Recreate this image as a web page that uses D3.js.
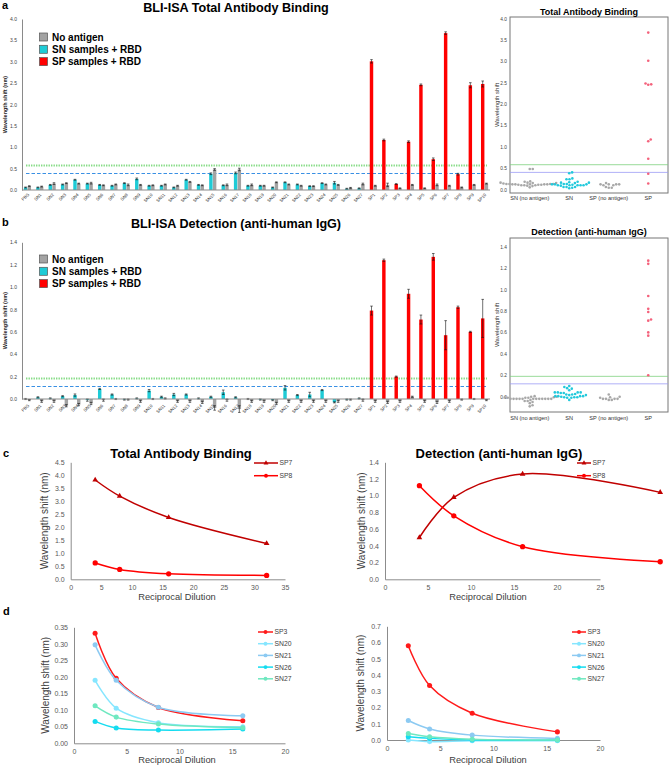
<!DOCTYPE html>
<html><head><meta charset="utf-8">
<script src="https://cdn.jsdelivr.net/npm/d3@7"></script>
<style>
body{margin:0;background:#fff}
svg{display:block}
text{font-family:"Liberation Sans",Arial,sans-serif}
</style>
</head><body>
<svg id="fig" width="669" height="767"></svg>
<script>
// ---------------- DATA ----------------
const categories = ["PBS","SN1","SN2","SN3","SN4","SN5","SN6","SN7","SN8","SN9","SN10","SN11","SN12","SN13","SN14","SN15","SN16","SN17","SN18","SN19","SN20","SN21","SN22","SN23","SN24","SN25","SN26","SN27","SP1","SP2","SP3","SP4","SP5","SP6","SP7","SP8","SP9","SP10"];

// Panel a: total antibody binding (nm)
const totalRBD = [0.06,0.06,0.12,0.13,0.24,0.15,0.12,0.10,0.16,0.26,0.10,0.10,0.06,0.24,0.12,0.38,0.11,0.40,0.10,0.10,0.06,0.18,0.13,0.09,0.16,0.17,0.03,0.04,3.01,1.17,0.14,1.13,2.46,0.72,3.67,0.37,2.45,2.48];
const totalRBDErr = [0.01,0.01,0.01,0.01,0.01,0.01,0.01,0.01,0.01,0.02,0.01,0.01,0.01,0.01,0.01,0.02,0.01,0.02,0.01,0.01,0.01,0.01,0.01,0.01,0.01,0.03,0.01,0.01,0.04,0.02,0.01,0.02,0.02,0.03,0.03,0.02,0.06,0.07];
const totalNoAg = [0.09,0.08,0.15,0.16,0.15,0.16,0.11,0.13,0.12,0.12,0.11,0.13,0.10,0.19,0.11,0.48,0.12,0.48,0.12,0.10,0.18,0.13,0.10,0.09,0.13,0.12,0.05,0.14,0.10,0.12,0.04,0.12,0.04,0.12,0.10,0.06,0.12,0.15];
const totalNoAgErr = [0.01,0.01,0.02,0.01,0.01,0.02,0.01,0.01,0.02,0.01,0.01,0.01,0.01,0.01,0.01,0.02,0.02,0.03,0.02,0.01,0.01,0.01,0.01,0.01,0.01,0.01,0.01,0.02,0.01,0.04,0.01,0.01,0.01,0.02,0.01,0.01,0.01,0.01];
const totalThresholds = [0.58, 0.40];

// Panel b: detection (anti-human IgG) (nm)
const detRBD = [0.00,0.015,0.005,0.025,0.035,-0.01,0.09,0.04,-0.005,0.005,0.075,0.02,0.04,0.04,0.005,0.02,0.06,0.015,0.00,-0.005,-0.01,0.10,0.035,0.04,0.08,-0.03,-0.005,0.005,0.79,1.24,0.20,0.94,0.71,1.27,0.57,0.82,0.60,0.72];
const detRBDErr = [0.005,0.005,0.005,0.005,0.01,0.01,0.005,0.005,0.005,0.005,0.01,0.005,0.01,0.005,0.005,0.005,0.02,0.005,0.005,0.005,0.005,0.02,0.005,0.02,0.005,0.005,0.005,0.005,0.04,0.01,0.005,0.04,0.04,0.03,0.13,0.01,0.005,0.17];
const detNoAg = [-0.01,-0.02,-0.02,-0.06,-0.05,-0.04,-0.01,0.00,-0.005,-0.02,0.00,0.005,-0.02,-0.02,-0.03,-0.08,-0.01,-0.09,-0.02,-0.02,-0.04,-0.02,-0.02,-0.02,-0.02,-0.02,-0.005,-0.01,-0.02,-0.03,-0.02,0.02,-0.02,-0.03,-0.02,-0.005,0.00,-0.01];
const detNoAgErr = [0.005,0.01,0.01,0.01,0.01,0.01,0.01,0.005,0.005,0.01,0.005,0.005,0.01,0.01,0.01,0.02,0.01,0.03,0.01,0.01,0.01,0.01,0.01,0.01,0.01,0.01,0.005,0.01,0.01,0.01,0.01,0.005,0.01,0.01,0.01,0.005,0.005,0.005];
const detThresholds = [0.19, 0.12];

const legendLabels = ["No antigen","SN samples + RBD","SP samples + RBD"];
const scatterGroups = ["SN (no antigen)","SN","SP (no antigen)","SP"];

const totalBarTicks = [0,0.5,1,1.5,2,2.5,3,3.5,4];
const detBarTicks = [0,0.2,0.4,0.6,0.8,1,1.2,1.4];

// Panel c: dilution series
const dilutionC = [4, 8, 16, 32];
const cTotalSP7 = [3.82, 3.20, 2.38, 1.38];
const cTotalSP8 = [0.63, 0.38, 0.21, 0.15];
const cDetSP7 = [0.50, 0.98, 1.26, 1.04];
const cDetSP8 = [1.12, 0.76, 0.39, 0.21];
const cTotalYTicks = [0,0.5,1,1.5,2,2.5,3,3.5,4,4.5];
const cTotalXTicks = [0,5,10,15,20,25,30,35];
const cDetYTicks = [0,0.2,0.4,0.6,0.8,1,1.2,1.4];
const cDetXTicks = [0,5,10,15,20,25];

// Panel d: dilution series
const dilutionD = [2, 4, 8, 16];
const dNames = ["SP3","SN20","SN21","SN26","SN27"];
const dTotalSP3  = [0.332, 0.196, 0.108, 0.068];
const dTotalSN20 = [0.190, 0.106, 0.062, 0.050];
const dTotalSN21 = [0.297, 0.190, 0.109, 0.083];
const dTotalSN26 = [0.066, 0.046, 0.040, 0.043];
const dTotalSN27 = [0.113, 0.079, 0.058, 0.047];
const dDetSP3  = [0.58, 0.335, 0.165, 0.050];
const dDetSN20 = [0.000, -0.010, -0.005, -0.005];
const dDetSN21 = [0.120, 0.068, 0.030, 0.010];
const dDetSN26 = [0.020, 0.010, 0.000, 0.000];
const dDetSN27 = [0.040, 0.020, 0.005, 0.000];
const dTotalYTicks = [0,0.05,0.1,0.15,0.2,0.25,0.3,0.35];
const dDetYTicks = [0,0.1,0.2,0.3,0.4,0.5,0.6,0.7];
const dXTicks = [0,5,10,15,20];

// ---------------- STYLE ----------------
const C_CYAN = "#1ecbd6", C_GRAY = "#a3a3a3", C_RED = "#ff0000", C_DARKRED = "#c00000";
const dColors = {SP3:"#ff1a1a", SN20:"#86e6ff", SN21:"#8ccaf2", SN26:"#14dcf0", SN27:"#6fe8c0"};
const svg = d3.select("#fig");

function letter(t, x, y) {
  svg.append("text").attr("x", x).attr("y", y).attr("font-size", 11).attr("font-weight", "bold").text(t);
}

// ---------------- BAR PANELS ----------------
function barPanel(o) {
  const g = svg.append("g");
  const x0 = d3.scaleBand().domain(categories).range([22, 490]).paddingInner(0.42).paddingOuter(0.15);
  const x1 = d3.scaleBand().domain(["rbd","no"]).range([0, x0.bandwidth()]).paddingInner(0.08);
  const y = d3.scaleLinear().domain([0, o.yMax]).range([o.base, o.top]);

  // y axis
  const ya = d3.axisLeft(y).tickValues(o.ticks).tickFormat(d3.format(".1f")).tickSize(0).tickSizeOuter(0).tickPadding(5);
  const yg = g.append("g").attr("transform", "translate(22,0)").call(ya);
  yg.select(".domain").attr("stroke", "#8a8a8a").attr("stroke-width", 1);
  yg.selectAll("text").attr("font-size", 5).attr("fill", "#444");
  g.append("text").attr("transform", `translate(7,${(o.base + o.top) / 2}) rotate(-90)`)
    .attr("text-anchor", "middle").attr("font-size", 5.5).attr("font-weight", "bold").attr("fill", "#222")
    .text("Wavelength shift (nm)");

  // thresholds
  const ty0 = Math.round(y(o.thr[0])) + 0.5, ty1 = Math.round(y(o.thr[1])) + 0.5;
  g.append("line").attr("x1", 26).attr("x2", 487).attr("y1", ty0).attr("y2", ty0)
    .attr("stroke", "#86dc86").attr("stroke-width", 2).attr("stroke-dasharray", "1.4 1.1");
  g.append("line").attr("x1", 26).attr("x2", 487).attr("y1", ty1).attr("y2", ty1)
    .attr("stroke", "#3a90e4").attr("stroke-width", 1).attr("stroke-dasharray", "3.5 2");

  const rows = categories.map((c, i) => ({c, i, sp: c.startsWith("SP")}));
  function bars(vals, errs, key, colorFn) {
    const gg = g.append("g");
    gg.selectAll("rect").data(rows).join("rect")
      .attr("x", d => x0(d.c) + x1(key))
      .attr("width", x1.bandwidth())
      .attr("y", d => y(Math.max(0, vals[d.i])))
      .attr("height", d => Math.abs(y(vals[d.i]) - y(0)))
      .attr("fill", colorFn);
    const eg = gg.append("g").attr("stroke", "#111").attr("stroke-width", 0.6);
    rows.forEach(d => {
      const cx = x0(d.c) + x1(key) + x1.bandwidth() / 2;
      const v = vals[d.i], e = errs[d.i];
      eg.append("line").attr("x1", cx).attr("x2", cx).attr("y1", y(v - e)).attr("y2", y(v + e));
      [v - e, v + e].forEach(t => eg.append("line").attr("x1", cx - 1.3).attr("x2", cx + 1.3).attr("y1", y(t)).attr("y2", y(t)));
    });
  }
  bars(o.rbd, o.rbdErr, "rbd", d => d.sp ? C_RED : C_CYAN);
  bars(o.no, o.noErr, "no", () => C_GRAY);

  // x axis
  g.append("line").attr("x1", 22).attr("x2", 490).attr("y1", y(0)).attr("y2", y(0)).attr("stroke", "#8a8a8a");
  g.append("g").selectAll("text").data(rows).join("text")
    .attr("transform", d => `translate(${x0(d.c) + x0.bandwidth() / 2 + 2},${o.labelY}) rotate(-45)`)
    .attr("text-anchor", "end").attr("font-size", 4.3).attr("fill", "#333").text(d => d.c);

  // title
  g.append("text").attr("x", 236).attr("y", o.titleY).attr("text-anchor", "middle")
    .attr("font-size", 12.6).attr("font-weight", "bold").text(o.title);

  // legend
  const lc = [C_GRAY, C_CYAN, C_RED];
  legendLabels.forEach((t, i) => {
    const yy = o.legY + i * 12.3;
    g.append("rect").attr("x", 39.5).attr("y", yy - 4).attr("width", 8).attr("height", 8)
      .attr("fill", lc[i]).attr("stroke", "#555").attr("stroke-width", 0.7);
    g.append("text").attr("x", 52).attr("y", yy + 3.6).attr("font-size", 10).attr("font-weight", "bold").text(t);
  });
}

barPanel({yMax: 4, top: 19, base: 190, ticks: totalBarTicks, thr: totalThresholds,
  rbd: totalRBD, rbdErr: totalRBDErr, no: totalNoAg, noErr: totalNoAgErr,
  labelY: 195, title: "BLI-ISA Total Antibody Binding", titleY: 12, legY: 37});
barPanel({yMax: 1.4, top: 242.3, base: 399, ticks: detBarTicks, thr: detThresholds,
  rbd: detRBD, rbdErr: detRBDErr, no: detNoAg, noErr: detNoAgErr,
  labelY: 406, title: "BLI-ISA Detection (anti-human IgG)", titleY: 227.5, legY: 259});

// ---------------- SCATTER (swarm) PANELS ----------------
function swarm(vals, y, r) {
  const pts = vals.map(v => ({v, y: y(v)})).sort((a, b) => b.y - a.y);
  const placed = [];
  pts.forEach(p => {
    const cands = [0];
    placed.forEach(q => {
      const dy = p.y - q.y;
      if (Math.abs(dy) < 2 * r) {
        const dx = Math.sqrt(4 * r * r - dy * dy);
        cands.push(q.x + dx, q.x - dx);
      }
    });
    cands.sort((a, b) => Math.abs(a) - Math.abs(b));
    for (const c of cands) {
      if (placed.every(q => (q.x - c) ** 2 + (q.y - p.y) ** 2 >= 4 * r * r - 1e-6)) { p.x = c; break; }
    }
    placed.push(p);
  });
  return placed;
}

function scatterPanel(o) {
  const g = svg.append("g");
  const x = d3.scaleBand().domain(scatterGroups).range([510, 668]);
  const y = d3.scaleLinear().domain(o.yDomain).range(o.yRange);
  g.append("rect").attr("x", 510).attr("y", o.frameTop).attr("width", 158).attr("height", o.frameBot - o.frameTop)
    .attr("fill", "none").attr("stroke", "#777").attr("stroke-width", 1);
  const ya = d3.axisLeft(y).tickValues(o.ticks).tickFormat(d3.format(".1f")).tickSize(0).tickPadding(3);
  const yg = g.append("g").attr("transform", "translate(510,0)").call(ya);
  yg.select(".domain").remove();
  yg.selectAll("text").attr("font-size", 4.8).attr("fill", "#444");
  g.append("text").attr("transform", `translate(499,${(o.frameTop + o.frameBot) / 2}) rotate(-90)`)
    .attr("text-anchor", "middle").attr("font-size", 6).attr("fill", "#333").text("Wavelength shift");
  g.append("text").attr("x", 589).attr("y", o.titleY).attr("text-anchor", "middle")
    .attr("font-size", 9).attr("font-weight", "bold").text(o.title);
  // thresholds
  g.append("line").attr("x1", 510).attr("x2", 668).attr("y1", y(o.thr[0])).attr("y2", y(o.thr[0]))
    .attr("stroke", "#7fd17f").attr("stroke-width", 0.8);
  g.append("line").attr("x1", 510).attr("x2", 668).attr("y1", y(o.thr[1])).attr("y2", y(o.thr[1]))
    .attr("stroke", "#9d9df5").attr("stroke-width", 0.8);
  // category labels
  scatterGroups.forEach(c => g.append("text").attr("x", x(c) + x.bandwidth() / 2).attr("y", o.catY)
    .attr("text-anchor", "middle").attr("font-size", 5.6).attr("fill", "#333").text(c));
  // points
  const groups = [
    {c: scatterGroups[0], vals: o.no.slice(1, 28), col: "#a8a8a8"},
    {c: scatterGroups[1], vals: o.rbd.slice(1, 28), col: "#22c9dc"},
    {c: scatterGroups[2], vals: o.no.slice(28), col: "#a8a8a8"},
    {c: scatterGroups[3], vals: o.rbd.slice(28), col: "#f4627c"}
  ];
  groups.forEach(gr => {
    const cx = x(gr.c) + x.bandwidth() / 2;
    const pts = swarm(gr.vals, y, 1.5);
    g.append("g").selectAll("circle").data(pts).join("circle")
      .attr("cx", d => cx + d.x).attr("cy", d => d.y).attr("r", 1.3).attr("fill", gr.col);
  });
}

scatterPanel({yDomain: [0, 4], yRange: [189.5, 18.5], frameTop: 17, frameBot: 193, ticks: totalBarTicks,
  thr: totalThresholds, rbd: totalRBD, no: totalNoAg, title: "Total Antibody Binding", titleY: 15, catY: 200});
scatterPanel({yDomain: [0, 1.4], yRange: [396.7, 246.7], frameTop: 238, frameBot: 412, ticks: detBarTicks,
  thr: detThresholds, rbd: detRBD, no: detNoAg, title: "Detection (anti-human IgG)", titleY: 235, catY: 419.5});

// ---------------- LINE PANELS ----------------
function lineChart(o) {
  const g = svg.append("g");
  const x = d3.scaleLinear().domain(o.xDomain).range(o.xRange);
  const y = d3.scaleLinear().domain(o.yDomain).range(o.yRange);
  const ya = d3.axisLeft(y).tickValues(o.yTicks).tickFormat(d3.format(o.yFmt)).tickSize(0).tickSizeOuter(0).tickPadding(6);
  const yg = g.append("g").attr("transform", `translate(${o.xRange[0]},0)`).call(ya);
  const xa = d3.axisBottom(x).tickValues(o.xTicks).tickSize(0).tickSizeOuter(0).tickPadding(6);
  const xg = g.append("g").attr("transform", `translate(0,${o.yRange[0]})`).call(xa);
  [yg, xg].forEach(a => {
    a.select(".domain").attr("stroke", "#8c8c8c").attr("stroke-width", 1);
    a.selectAll("text").attr("font-size", 7).attr("fill", "#595959");
  });
  g.append("text").attr("transform", `translate(${o.yLabX},${(o.yRange[0] + o.yRange[1]) / 2}) rotate(-90)`)
    .attr("text-anchor", "middle").attr("font-size", 10).attr("fill", "#404040").text("Wavelength shift (nm)");
  g.append("text").attr("x", o.xLabX).attr("y", o.xLabY).attr("text-anchor", "middle")
    .attr("font-size", 9.3).attr("fill", "#404040").text("Reciprocal Dilution");
  if (o.title) g.append("text").attr("x", o.titleX).attr("y", o.titleY).attr("text-anchor", "middle")
    .attr("font-size", 13).attr("font-weight", "bold").text(o.title);
  const line = d3.line().x(d => x(d[0])).y(d => y(d[1])).curve(d3.curveCatmullRom.alpha(0.5));
  o.series.forEach((s, i) => {
    const data = o.xs.map((xv, j) => [xv, s.vals[j]]);
    g.append("path").attr("d", line(data)).attr("fill", "none").attr("stroke", s.color).attr("stroke-width", 1.5);
    const sym = d3.symbol().type(s.shape === "tri" ? d3.symbolTriangle : d3.symbolCircle).size(s.shape === "tri" ? 14 : s.size);
    g.append("g").selectAll("path").data(data).join("path")
      .attr("transform", d => `translate(${x(d[0])},${y(d[1])})`).attr("d", sym).attr("fill", s.color);
    // legend
    const ly = o.legY + i * o.legStep;
    g.append("line").attr("x1", o.legX[0]).attr("x2", o.legX[1]).attr("y1", ly).attr("y2", ly)
      .attr("stroke", s.color).attr("stroke-width", 1.5);
    g.append("path").attr("transform", `translate(${(o.legX[0] + o.legX[1]) / 2},${ly})`)
      .attr("d", d3.symbol().type(s.shape === "tri" ? d3.symbolTriangle : d3.symbolCircle).size(s.shape === "tri" ? 10 : 12))
      .attr("fill", s.color);
    g.append("text").attr("x", o.legX[1] + 1.5).attr("y", ly + 2.4).attr("font-size", 6.8).attr("fill", "#404040").text(s.name);
  });
}

letter("a", 2, 9);
letter("b", 2, 226);
letter("c", 3, 457);
letter("d", 3, 615);

lineChart({xDomain: [0, 35], xRange: [70.7, 285], yDomain: [0, 4.5], yRange: [579.3, 462.3],
  xTicks: cTotalXTicks, yTicks: cTotalYTicks, yFmt: ".1f", xs: dilutionC,
  yLabX: 48, xLabX: 177, xLabY: 600, title: "Total Antibody Binding", titleX: 181, titleY: 458,
  legX: [254, 278], legY: 463, legStep: 12.7,
  series: [{name: "SP7", vals: cTotalSP7, color: C_DARKRED, shape: "tri"},
           {name: "SP8", vals: cTotalSP8, color: C_RED, shape: "circ", size: 22}]});
lineChart({xDomain: [0, 25], xRange: [385, 600], yDomain: [0, 1.4], yRange: [579.3, 462.3],
  xTicks: cDetXTicks, yTicks: cDetYTicks, yFmt: ".1f", xs: dilutionC,
  yLabX: 365, xLabX: 488, xLabY: 600, title: "Detection (anti-human IgG)", titleX: 499, titleY: 458,
  legX: [577, 591], legY: 463, legStep: 12.7,
  series: [{name: "SP7", vals: cDetSP7, color: C_DARKRED, shape: "tri"},
           {name: "SP8", vals: cDetSP8, color: C_RED, shape: "circ", size: 22}]});

const dTotal = [dTotalSP3, dTotalSN20, dTotalSN21, dTotalSN26, dTotalSN27];
const dDet = [dDetSP3, dDetSN20, dDetSN21, dDetSN26, dDetSN27];
lineChart({xDomain: [0, 20], xRange: [74, 285], yDomain: [0, 0.35], yRange: [743.3, 627.3],
  xTicks: dXTicks, yTicks: dTotalYTicks, yFmt: ".2f", xs: dilutionD,
  yLabX: 49, xLabX: 177, xLabY: 763,
  legX: [258, 273], legY: 632, legStep: 11.7,
  series: dNames.map((n, i) => ({name: n, vals: dTotal[i], color: dColors[n], shape: "circ", size: 20}))});
lineChart({xDomain: [0, 20], xRange: [387, 600], yDomain: [0, 0.7], yRange: [740, 626.3],
  xTicks: dXTicks, yTicks: dDetYTicks, yFmt: ".1f", xs: dilutionD,
  yLabX: 364, xLabX: 488, xLabY: 763,
  legX: [572, 586], legY: 632, legStep: 11.7,
  series: dNames.map((n, i) => ({name: n, vals: dDet[i], color: dColors[n], shape: "circ", size: 20}))});
</script>
</body></html>
